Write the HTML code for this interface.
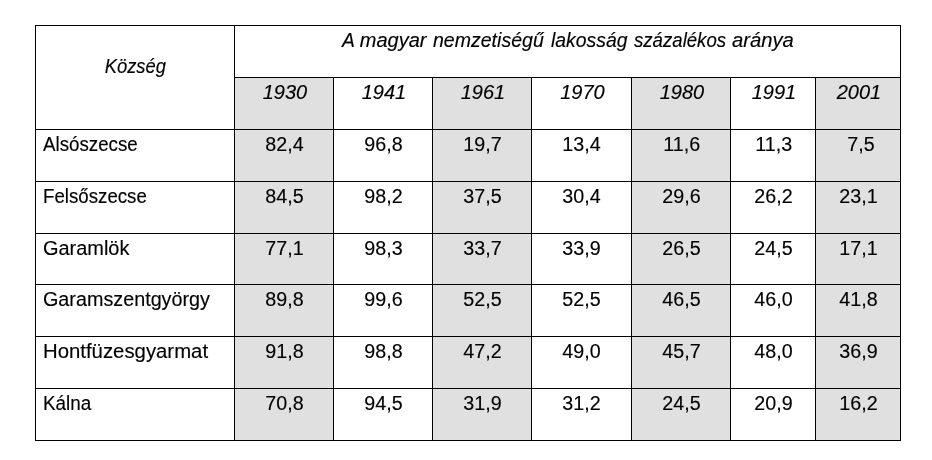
<!DOCTYPE html>
<html lang="hu"><head><meta charset="utf-8"><title>Táblázat</title>
<style>
html,body{margin:0;padding:0;background:#fff;}
body{width:932px;height:460px;position:relative;overflow:hidden;font-family:"Liberation Sans",sans-serif;color:#000;}
.g{position:absolute;background:#e0e0e0;}
.l{position:absolute;background:#000;}
.t{position:absolute;white-space:nowrap;-webkit-text-stroke:0.15px #000;font-size:20px;line-height:20px;height:20px;}
.c{text-align:center;}
.i{font-style:italic;}
.t span{display:inline-block;transform-origin:50% 50%;}
.t.n span{transform-origin:0 50%;}
</style></head><body>

<div class="g" style="left:235px;top:78px;width:98px;height:362px"></div>
<div class="g" style="left:433px;top:78px;width:98px;height:362px"></div>
<div class="g" style="left:632px;top:78px;width:98px;height:362px"></div>
<div class="g" style="left:816px;top:78px;width:84px;height:362px"></div>
<div class="l" style="left:35px;top:25px;width:866px;height:1px"></div>
<div class="l" style="left:234px;top:77px;width:667px;height:1px"></div>
<div class="l" style="left:35px;top:129px;width:866px;height:1px"></div>
<div class="l" style="left:35px;top:181px;width:866px;height:1px"></div>
<div class="l" style="left:35px;top:233px;width:866px;height:1px"></div>
<div class="l" style="left:35px;top:284px;width:866px;height:1px"></div>
<div class="l" style="left:35px;top:336px;width:866px;height:1px"></div>
<div class="l" style="left:35px;top:388px;width:866px;height:1px"></div>
<div class="l" style="left:35px;top:440px;width:866px;height:1px"></div>
<div class="l" style="left:35px;top:25px;width:1px;height:416px"></div>
<div class="l" style="left:234px;top:25px;width:1px;height:416px"></div>
<div class="l" style="left:333px;top:77px;width:1px;height:364px"></div>
<div class="l" style="left:432px;top:77px;width:1px;height:364px"></div>
<div class="l" style="left:531px;top:77px;width:1px;height:364px"></div>
<div class="l" style="left:631px;top:77px;width:1px;height:364px"></div>
<div class="l" style="left:730px;top:77px;width:1px;height:364px"></div>
<div class="l" style="left:815px;top:77px;width:1px;height:364px"></div>
<div class="l" style="left:900px;top:25px;width:1px;height:416px"></div>
<div class="t c i" style="left:36.09px;width:198px;top:56.00px"><span style="transform:scaleX(0.9168)">Község</span></div>
<div class="t n i" style="left:342.27px;width:200px;top:30.00px"><span style="transform:scaleX(0.9627)">A</span></div>
<div class="t n i" style="left:359.75px;width:200px;top:30.00px"><span>magyar</span></div>
<div class="t n i" style="left:433.18px;width:200px;top:30.00px"><span style="transform:scaleX(0.9766)">nemzetiségű</span></div>
<div class="t n i" style="left:551.20px;width:200px;top:30.00px"><span style="transform:scaleX(0.9682)">lakosság</span></div>
<div class="t n i" style="left:633.55px;width:200px;top:30.00px"><span style="transform:scaleX(0.9308)">százalékos</span></div>
<div class="t n i" style="left:732.14px;width:200px;top:30.00px"><span style="transform:scaleX(1.0115)">aránya</span></div>
<div class="t c i" style="left:235.90px;width:98px;top:82.00px"><span>1930</span></div>
<div class="t c i" style="left:334.90px;width:98px;top:82.00px"><span>1941</span></div>
<div class="t c i" style="left:433.90px;width:98px;top:82.00px"><span>1961</span></div>
<div class="t c i" style="left:532.90px;width:99px;top:82.00px"><span>1970</span></div>
<div class="t c i" style="left:632.90px;width:98px;top:82.00px"><span>1980</span></div>
<div class="t c i" style="left:731.90px;width:84px;top:82.00px"><span>1991</span></div>
<div class="t c i" style="left:816.90px;width:84px;top:82.00px"><span>2001</span></div>
<div class="t n" style="left:43.40px;width:190.6px;top:134.00px"><span style="transform:scaleX(0.9367)">Alsószecse</span></div>
<div class="t c" style="left:235.30px;width:98px;top:134.00px"><span style="transform:scaleX(0.9850)">82,4</span></div>
<div class="t c" style="left:334.30px;width:98px;top:134.00px"><span style="transform:scaleX(0.9850)">96,8</span></div>
<div class="t c" style="left:433.30px;width:98px;top:134.00px"><span style="transform:scaleX(0.9850)">19,7</span></div>
<div class="t c" style="left:532.30px;width:99px;top:134.00px"><span style="transform:scaleX(0.9850)">13,4</span></div>
<div class="t c" style="left:632.30px;width:98px;top:134.00px"><span style="transform:scaleX(0.9850)">11,6</span></div>
<div class="t c" style="left:731.30px;width:84px;top:134.00px"><span style="transform:scaleX(0.9850)">11,3</span></div>
<div class="t c" style="left:819.20px;width:84px;top:134.00px"><span style="transform:scaleX(0.9850)">7,5</span></div>
<div class="t n" style="left:43.40px;width:190.6px;top:186.00px"><span style="transform:scaleX(0.9343)">Felsőszecse</span></div>
<div class="t c" style="left:235.30px;width:98px;top:186.00px"><span style="transform:scaleX(0.9850)">84,5</span></div>
<div class="t c" style="left:334.30px;width:98px;top:186.00px"><span style="transform:scaleX(0.9850)">98,2</span></div>
<div class="t c" style="left:433.30px;width:98px;top:186.00px"><span style="transform:scaleX(0.9850)">37,5</span></div>
<div class="t c" style="left:532.30px;width:99px;top:186.00px"><span style="transform:scaleX(0.9850)">30,4</span></div>
<div class="t c" style="left:632.30px;width:98px;top:186.00px"><span style="transform:scaleX(0.9850)">29,6</span></div>
<div class="t c" style="left:731.30px;width:84px;top:186.00px"><span style="transform:scaleX(0.9850)">26,2</span></div>
<div class="t c" style="left:816.30px;width:84px;top:186.00px"><span style="transform:scaleX(0.9850)">23,1</span></div>
<div class="t n" style="left:42.78px;width:190.6px;top:238.00px"><span style="transform:scaleX(0.9970)">Garamlök</span></div>
<div class="t c" style="left:235.30px;width:98px;top:238.00px"><span style="transform:scaleX(0.9850)">77,1</span></div>
<div class="t c" style="left:334.30px;width:98px;top:238.00px"><span style="transform:scaleX(0.9850)">98,3</span></div>
<div class="t c" style="left:433.30px;width:98px;top:238.00px"><span style="transform:scaleX(0.9850)">33,7</span></div>
<div class="t c" style="left:532.30px;width:99px;top:238.00px"><span style="transform:scaleX(0.9850)">33,9</span></div>
<div class="t c" style="left:632.30px;width:98px;top:238.00px"><span style="transform:scaleX(0.9850)">26,5</span></div>
<div class="t c" style="left:731.30px;width:84px;top:238.00px"><span style="transform:scaleX(0.9850)">24,5</span></div>
<div class="t c" style="left:816.30px;width:84px;top:238.00px"><span style="transform:scaleX(0.9850)">17,1</span></div>
<div class="t n" style="left:43.40px;width:190.6px;top:289.00px"><span style="transform:scaleX(0.9881)">Garamszentgyörgy</span></div>
<div class="t c" style="left:235.30px;width:98px;top:289.00px"><span style="transform:scaleX(0.9850)">89,8</span></div>
<div class="t c" style="left:334.30px;width:98px;top:289.00px"><span style="transform:scaleX(0.9850)">99,6</span></div>
<div class="t c" style="left:433.30px;width:98px;top:289.00px"><span style="transform:scaleX(0.9850)">52,5</span></div>
<div class="t c" style="left:532.30px;width:99px;top:289.00px"><span style="transform:scaleX(0.9850)">52,5</span></div>
<div class="t c" style="left:632.30px;width:98px;top:289.00px"><span style="transform:scaleX(0.9850)">46,5</span></div>
<div class="t c" style="left:731.30px;width:84px;top:289.00px"><span style="transform:scaleX(0.9850)">46,0</span></div>
<div class="t c" style="left:816.30px;width:84px;top:289.00px"><span style="transform:scaleX(0.9850)">41,8</span></div>
<div class="t n" style="left:43.32px;width:190.6px;top:341.00px"><span style="transform:scaleX(1.0169)">Hontfüzesgyarmat</span></div>
<div class="t c" style="left:235.30px;width:98px;top:341.00px"><span style="transform:scaleX(0.9850)">91,8</span></div>
<div class="t c" style="left:334.30px;width:98px;top:341.00px"><span style="transform:scaleX(0.9850)">98,8</span></div>
<div class="t c" style="left:433.30px;width:98px;top:341.00px"><span style="transform:scaleX(0.9850)">47,2</span></div>
<div class="t c" style="left:532.30px;width:99px;top:341.00px"><span style="transform:scaleX(0.9850)">49,0</span></div>
<div class="t c" style="left:632.30px;width:98px;top:341.00px"><span style="transform:scaleX(0.9850)">45,7</span></div>
<div class="t c" style="left:731.30px;width:84px;top:341.00px"><span style="transform:scaleX(0.9850)">48,0</span></div>
<div class="t c" style="left:816.30px;width:84px;top:341.00px"><span style="transform:scaleX(0.9850)">36,9</span></div>
<div class="t n" style="left:42.88px;width:190.6px;top:393.00px"><span style="transform:scaleX(0.9445)">Kálna</span></div>
<div class="t c" style="left:235.30px;width:98px;top:393.00px"><span style="transform:scaleX(0.9850)">70,8</span></div>
<div class="t c" style="left:334.30px;width:98px;top:393.00px"><span style="transform:scaleX(0.9850)">94,5</span></div>
<div class="t c" style="left:433.30px;width:98px;top:393.00px"><span style="transform:scaleX(0.9850)">31,9</span></div>
<div class="t c" style="left:532.30px;width:99px;top:393.00px"><span style="transform:scaleX(0.9850)">31,2</span></div>
<div class="t c" style="left:632.30px;width:98px;top:393.00px"><span style="transform:scaleX(0.9850)">24,5</span></div>
<div class="t c" style="left:731.30px;width:84px;top:393.00px"><span style="transform:scaleX(0.9850)">20,9</span></div>
<div class="t c" style="left:816.30px;width:84px;top:393.00px"><span style="transform:scaleX(0.9850)">16,2</span></div>
</body></html>
